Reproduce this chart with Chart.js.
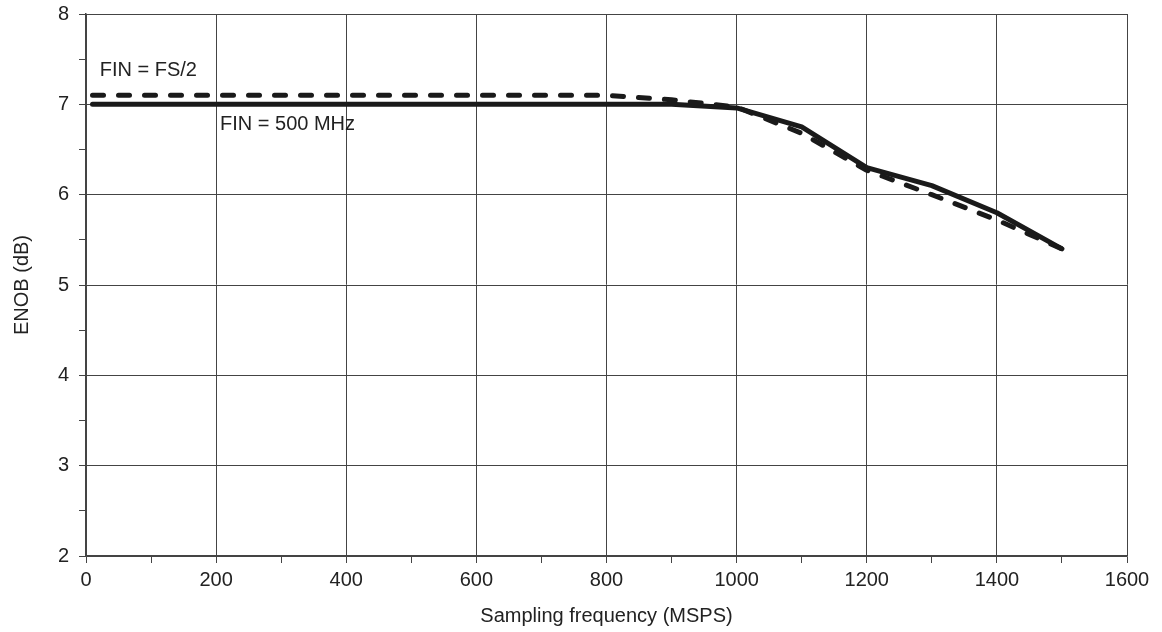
<!DOCTYPE html>
<html>
<head>
<meta charset="utf-8">
<title>ENOB vs sampling frequency</title>
<script src="https://cdn.jsdelivr.net/npm/chart.js@4.4.1/dist/chart.umd.min.js"></script>
<style>
  html, body { margin:0; padding:0; background:#fff; }
  #wrap { width:1162px; height:632px; position:relative; }
</style>
</head>
<body>
<div id="wrap"><canvas id="enobChart"></canvas></div>
<script>
// data
const fsMsps     = [10, 800, 900, 1000, 1100, 1200, 1300, 1400, 1500];
const enob500MHz = [7.0, 7.0, 7.0, 6.96, 6.75, 6.3, 6.1, 5.8, 5.4];
const enobFsHalf = [7.1, 7.1, 7.05, 6.97, 6.68, 6.27, 6.0, 5.72, 5.4];

const xLabels = ['0', '200', '400', '600', '800', '1000', '1200', '1400', '1600'];
const yLabels = ['2', '3', '4', '5', '6', '7', '8'];

// in-plot captions (data coords)
const captions = [
  { text: 'FIN = FS/2',    x: 21,  y: 7.37 },
  { text: 'FIN = 500 MHz', x: 206, y: 6.78 }
];

const FONT = 'Liberation Sans, Arial, Helvetica, sans-serif';
const INK = '#1a1a1a';
const GRID = '#444';

const toXY = (xs, ys) => xs.map((x, i) => ({ x: x, y: ys[i] }));

const captionPlugin = {
  id: 'captions',
  afterDatasetsDraw(chart) {
    const { ctx, scales } = chart;
    ctx.save();
    ctx.font = '20px ' + FONT;
    ctx.fillStyle = '#222';
    ctx.textAlign = 'left';
    ctx.textBaseline = 'middle';
    captions.forEach(c => {
      ctx.fillText(c.text, scales.x.getPixelForValue(c.x), scales.y.getPixelForValue(c.y));
    });
    ctx.restore();
  }
};

new Chart(document.getElementById('enobChart'), {
  type: 'line',
  data: {
    datasets: [
      {
        label: 'FIN = FS/2',
        data: toXY(fsMsps, enobFsHalf),
        borderColor: INK, borderWidth: 5, borderDash: [11, 15],
        borderCapStyle: 'round', borderJoinStyle: 'round',
        pointRadius: 0, fill: false, tension: 0
      },
      {
        label: 'FIN = 500 MHz',
        data: toXY(fsMsps, enob500MHz),
        borderColor: INK, borderWidth: 5,
        borderCapStyle: 'round', borderJoinStyle: 'round',
        pointRadius: 0, fill: false, tension: 0
      }
    ]
  },
  options: {
    responsive: true, maintainAspectRatio: false, animation: false,
    layout: { padding: { top: 14, right: 35, left: 0, bottom: 0 } },
    plugins: { legend: { display: false }, tooltip: { enabled: false } },
    scales: {
      x: {
        type: 'linear', min: 0, max: 1600,
        afterFit: s => { s.height = 76; s.paddingLeft = 0; s.paddingRight = 0; },
        ticks: {
          stepSize: 100, autoSkip: false, maxRotation: 0, padding: 5,
          color: '#222', font: { family: FONT, size: 20 },
          callback: v => (v % 200 === 0 ? xLabels[v / 200] : '')
        },
        grid: {
          color: c => (c.tick && c.tick.value % 200 === 0 ? GRID : 'rgba(0,0,0,0)'),
          tickColor: GRID, tickLength: 7, lineWidth: 1
        },
        border: { display: true, color: GRID, width: 1.5 },
        title: {
          display: true, text: 'Sampling frequency (MSPS)', color: '#222',
          font: { family: FONT, size: 20 }, padding: { top: 4, bottom: 4 }
        }
      },
      y: {
        type: 'linear', min: 2, max: 8,
        afterFit: s => { s.width = 86; s.paddingTop = 0; s.paddingBottom = 0; },
        ticks: {
          stepSize: 0.5, autoSkip: false, padding: 10,
          color: '#222', font: { family: FONT, size: 20 },
          callback: v => (Number.isInteger(v) ? yLabels[v - 2] : '')
        },
        grid: {
          color: c => (c.tick && Number.isInteger(c.tick.value) ? GRID : 'rgba(0,0,0,0)'),
          tickColor: GRID, tickLength: 7, lineWidth: 1
        },
        border: { display: true, color: GRID, width: 1.5 },
        title: {
          display: true, text: 'ENOB (dB)', color: '#222',
          font: { family: FONT, size: 20 }, padding: { top: 10, bottom: 4 }
        }
      }
    }
  },
  plugins: [captionPlugin]
});
</script>
</body>
</html>
